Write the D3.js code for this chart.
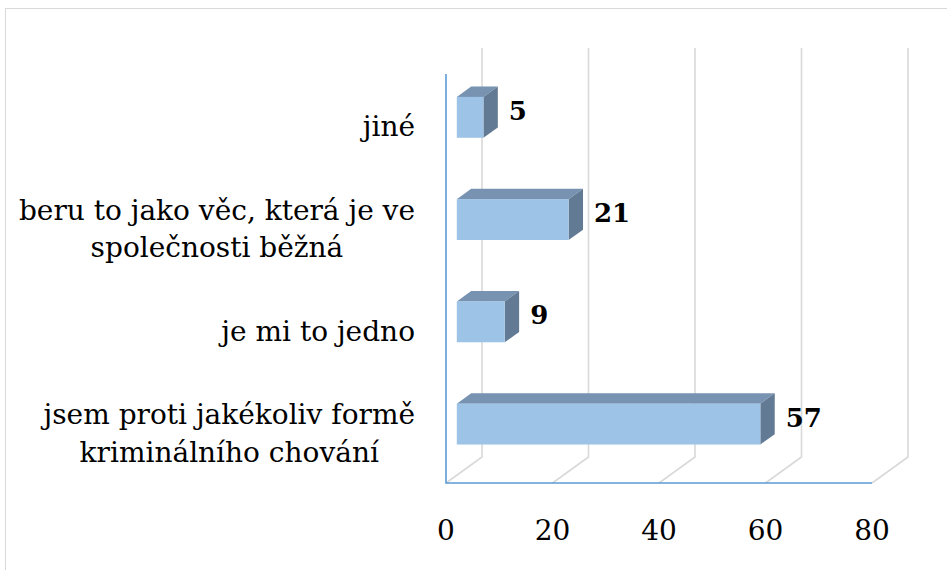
<!DOCTYPE html>
<html>
<head>
<meta charset="utf-8" />
<title>Chart</title>
<style>
  body { margin: 0; background: #fff; }
  text { font-family: "DejaVu Serif", serif; fill: #000; }
</style>
</head>
<body>
<svg id="chart" width="947" height="570"></svg>
<script src="https://d3js.org/d3.v7.min.js"></script>
<script>
var categories = ["jiné", "beru to jako věc, která je ve\nspolečnosti běžná", "je mi to jedno", "jsem proti jakékoliv formě\nkriminálního chování"];
var values = [5, 21, 9, 57];
var ticks = [0, 20, 40, 60, 80];

var svg = d3.select("#chart");

// outer frame
svg.append("rect")
  .attr("x", 5.5).attr("y", 8.5)
  .attr("width", 960).attr("height", 580)
  .attr("fill", "white").attr("stroke", "#d9d9d9");

// front plane geometry + depth offset
var plotLeft = 446, plotRight = 872, plotTop = 74, plotBottom = 483;
var dx = 36, dy = -26;

var x = d3.scaleLinear().domain([0, 80]).range([plotLeft, plotRight]);
var y = d3.scaleBand().domain(categories).range([plotTop, plotBottom])
  .paddingInner(0.6).paddingOuter(0.3);

function pt(px, py, f) { return [px + dx * f, py + dy * f]; }
var line = d3.line();

// back wall and floor gridlines
var grid = svg.append("g").attr("stroke", "#d9d9d9").attr("stroke-width", 1.6).attr("fill", "none");
ticks.forEach(function(t) {
  grid.append("path").attr("d", line([pt(x(t), plotTop, 1), pt(x(t), plotBottom, 1), pt(x(t), plotBottom, 0)]));
});

// axes (front edges)
svg.append("path").attr("d", line([[plotLeft, plotTop], [plotLeft, plotBottom], [plotRight, plotBottom]]))
  .attr("stroke", "#5b9bd5").attr("stroke-width", 1.6).attr("fill", "none");

// bars
var f0 = 0.3, f1 = 0.7;
var bars = svg.append("g");
categories.forEach(function(c, i) {
  var x0 = x(0), x1 = x(values[i]);
  var y0 = y(c), y1 = y(c) + y.bandwidth();
  // top face
  bars.append("path")
    .attr("d", line([pt(x0, y0, f0), pt(x1, y0, f0), pt(x1, y0, f1), pt(x0, y0, f1)]) + "Z")
    .attr("fill", "#7793b1");
  // side face
  bars.append("path")
    .attr("d", line([pt(x1, y0, f0), pt(x1, y0, f1), pt(x1, y1, f1), pt(x1, y1, f0)]) + "Z")
    .attr("fill", "#627a94");
  // front face
  var p = pt(x0, y0, f0);
  bars.append("rect")
    .attr("x", p[0]).attr("y", p[1])
    .attr("width", x1 - x0).attr("height", y1 - y0)
    .attr("fill", "#9dc3e6");
  // value label
  var lp = pt(x1, (y0 + y1) / 2, f1);
  bars.append("text")
    .attr("x", lp[0] + 11).attr("y", lp[1] + 4)
    .attr("dominant-baseline", "central")
    .attr("font-size", 26).attr("font-weight", "bold")
    .text(values[i]);
});

// category labels
categories.forEach(function(c) {
  var lines = c.split("\n");
  var cy = y(c) + y.bandwidth() / 2;
  var g = svg.append("g");
  var texts = lines.map(function(l, j) {
    return g.append("text")
      .attr("font-size", 28)
      .attr("y", cy + 11 + (j - (lines.length - 1) / 2) * 37.5)
      .text(l);
  });
  var maxW = d3.max(texts, function(t) { return t.node().getComputedTextLength(); });
  texts.forEach(function(t) {
    t.attr("x", 415 - maxW / 2).attr("text-anchor", "middle");
  });
});

// tick labels
svg.append("g").selectAll("text").data(ticks).enter().append("text")
  .attr("x", function(d) { return x(d); })
  .attr("y", 540)
  .attr("text-anchor", "middle")
  .attr("font-size", 28)
  .text(function(d) { return d; });
</script>
</body>
</html>
